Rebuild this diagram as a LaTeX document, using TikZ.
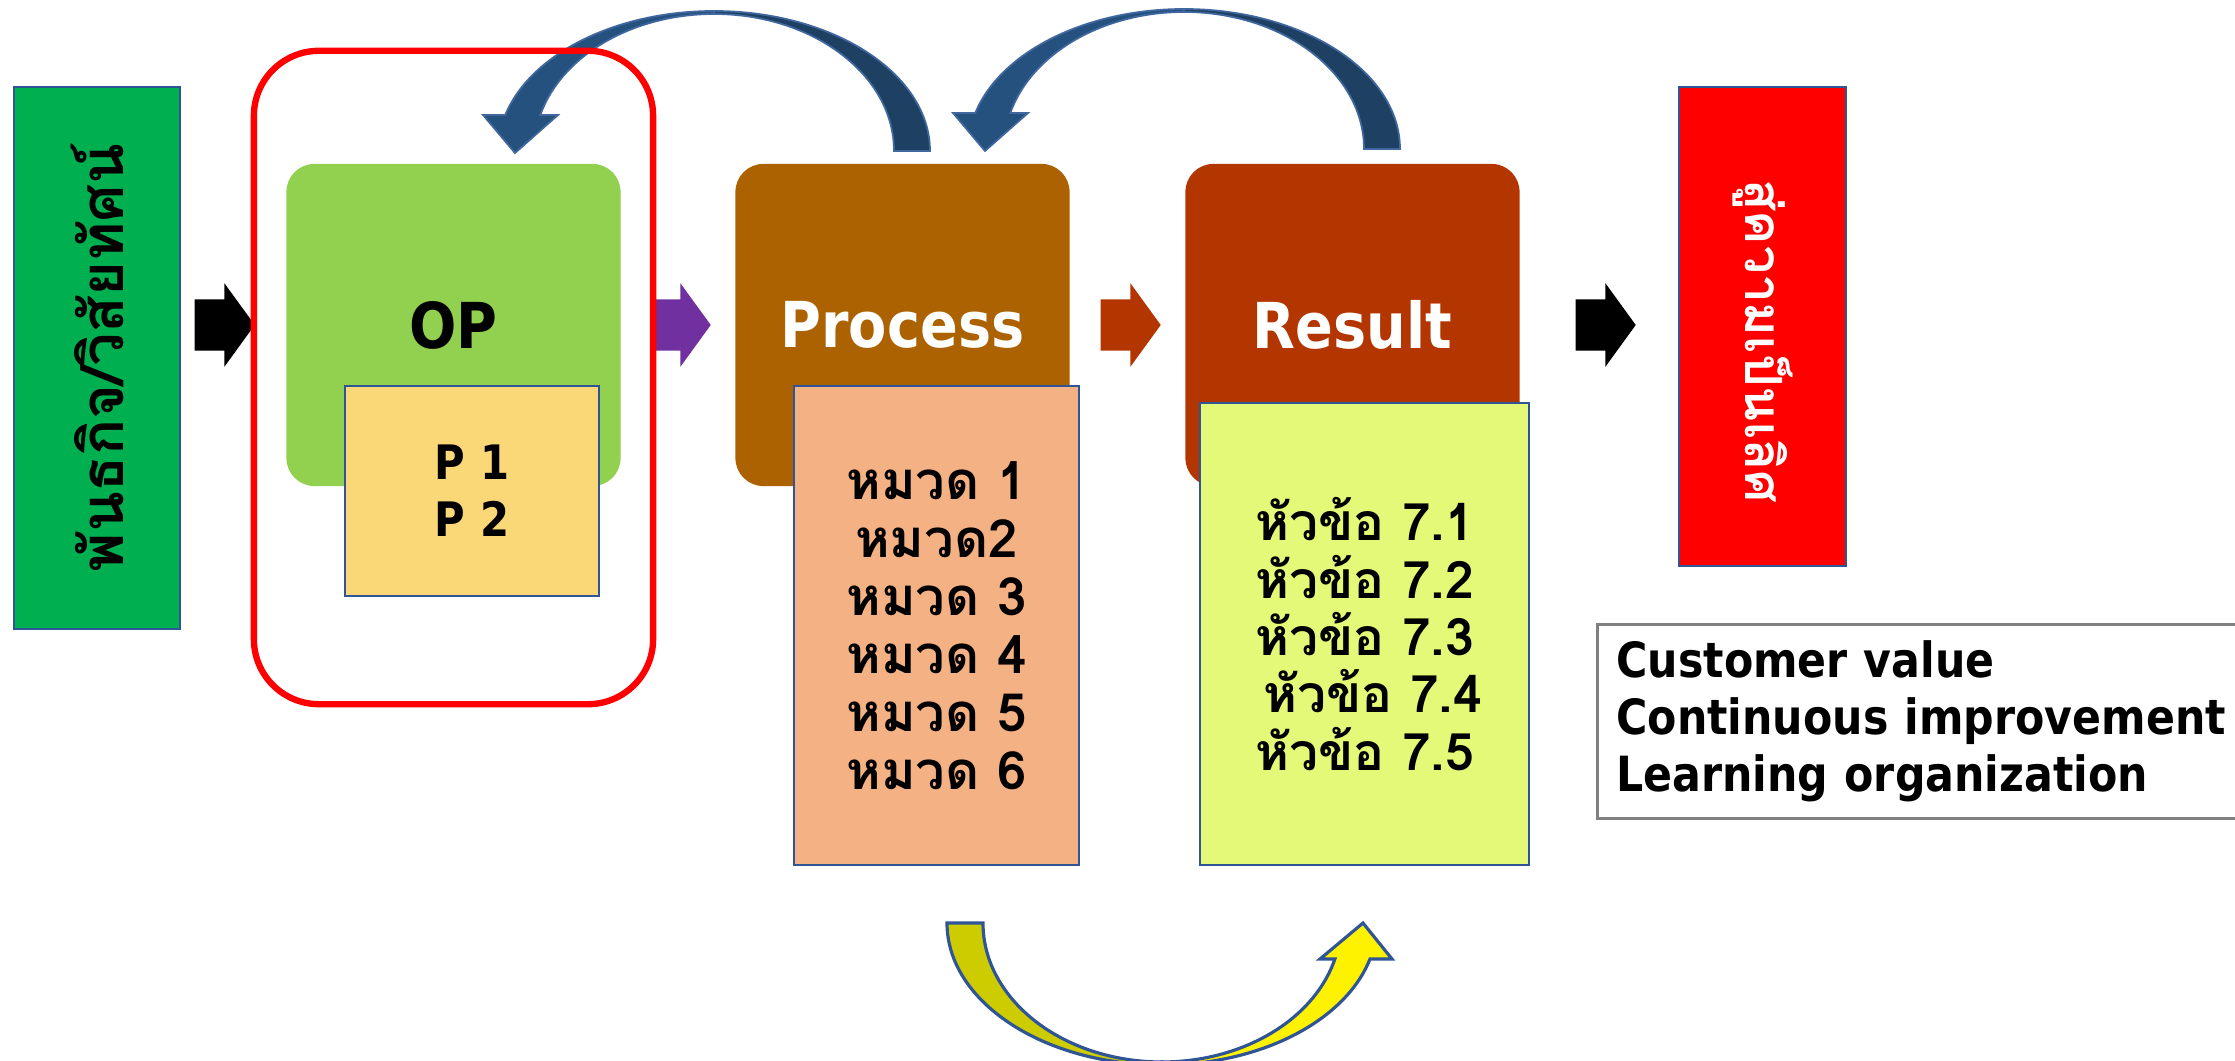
\documentclass[tikz,border=0pt]{standalone}
\usepackage{fontspec}
\setmainfont{DejaVu Sans}[FakeStretch=0.88]
\newfontfamily\thaifont[Script=Thai]{Loma}
\usepackage{tikz}
\usetikzlibrary{shapes.arrows,positioning}

\definecolor{missiongreen}{HTML}{00B050}
\definecolor{opgreen}{HTML}{92D050}
\definecolor{psand}{HTML}{FAD878}
\definecolor{procbrown}{HTML}{AC6200}
\definecolor{peach}{HTML}{F4B183}
\definecolor{resrust}{HTML}{B33500}
\definecolor{limepaper}{HTML}{E5F978}
\definecolor{edgeblue}{HTML}{2F5597}
\definecolor{arclight}{HTML}{25517F}
\definecolor{arcdark}{HTML}{1E4062}
\definecolor{arcedge}{HTML}{41679F}
\definecolor{oliveback}{HTML}{CCCC00}
\definecolor{oppurple}{HTML}{7030A0}

\begin{document}
\begin{tikzpicture}[x=0.01cm,y=-0.01cm,
    card/.style={rounded corners=0.28cm, minimum width=3.34cm, minimum height=3.22cm,
                 inner sep=0pt, font=\bfseries\fontsize{18}{20}\selectfont},
    sheet/.style={draw=edgeblue, line width=0.6pt, align=center, inner sep=0pt},
    fat/.style={single arrow, draw=none, anchor=tail, inner xsep=0pt, inner ysep=0.25cm,
                minimum height=0.6cm, minimum width=0.82cm,
                single arrow head extend=0.16cm, single arrow tip angle=108},
    thaitext/.style={font=\thaifont\bfseries\fontsize{15}{16.5}\selectfont},
    curve/.style={draw=arcedge, line width=0.5pt}]

  \useasboundingbox (0,0) rectangle (2235,1061);

  % mission box
  \node[sheet, fill=missiongreen, rotate=90, minimum width=5.42cm, minimum height=1.66cm,
        font=\thaifont\bfseries\fontsize{17}{20}\selectfont] (mission) at (97,358) {พันธกิจ/วิสัยทัศน์};

  % block arrows
  \node[fat, fill=black] (a1) at (194,325) {};
  \node[fat, fill=oppurple] (a2) at (650,325) {};
  \node[fat, fill=resrust] (a3) at (1100,325) {};
  \node[fat, fill=black] (a4) at (1575,325) {};

  % loop-back arrows on top
  \foreach \cx/\cy in {714/151,1184/149}{
    \begin{scope}[shift={(\cx,\cy)}]
      \filldraw[curve, fill=arcdark] (270:216 and 140)
        arc[start angle=270, end angle=360, x radius=216, y radius=140]
        -- (0:180 and 137)
        arc[start angle=360, end angle=270, x radius=180, y radius=137] -- cycle;
      \filldraw[curve, fill=arclight] (270:216 and 140)
        arc[start angle=270, end angle=194.9, x radius=216, y radius=140]
        -- (-231,-36) -- (-199,2) -- (-156,-36)
        -- (195.2:180 and 137)
        arc[start angle=195.2, end angle=270, x radius=180, y radius=137] -- cycle;
    \end{scope}
  }

  % OP
  \node[card, fill=opgreen] (op) at (453.5,325) {OP};
  \node[sheet, fill=psand, minimum width=2.54cm, minimum height=2.10cm,
        font=\bfseries\fontsize{13.5}{16.2}\selectfont] (plist) at (472,491) {P 1\\P 2};

  % Process
  \node[card, fill=procbrown, text=white] (process) at (902.5,325) {Process};
  \node[sheet, fill=peach, minimum width=2.85cm, minimum height=4.79cm, thaitext] (cats) at (936.5,625.5)
    {หมวด 1\\หมวด2\\หมวด 3\\หมวด 4\\หมวด 5\\หมวด 6};

  % Result
  \node[card, fill=resrust, text=white] (result) at (1352.5,325) {Result};
  \node[sheet, fill=limepaper, minimum width=3.29cm, minimum height=4.62cm, thaitext,
        font=\thaifont\bfseries\fontsize{14.7}{16.3}\selectfont] (items) at (1364.5,634)
    {หัวข้อ 7.1\\หัวข้อ 7.2\\หัวข้อ 7.3\\\hspace*{0.16cm}หัวข้อ 7.4\\หัวข้อ 7.5};

  % excellence
  \node[sheet, fill=red, text=white, rotate=-90, minimum width=4.79cm, minimum height=1.67cm,
        font=\thaifont\bfseries\fontsize{14.6}{18}\selectfont] (excel) at (1762.5,326.5)
    {\hspace*{0.3cm}สู่ความเป็นเลิศ};

  % values
  \node[draw=gray, line width=0.8pt, anchor=north west, minimum height=1.94cm,
        text width=6.5cm, inner xsep=0.19cm, align=left,
        font=\bfseries\fontsize{13.8}{16.2}\selectfont] (values) at (1596,623)
    {Customer value\\Continuous improvement\\Learning organization};

  % bottom arrow
  \begin{scope}[shift={(1162,923)}]
    \filldraw[draw=edgeblue, line width=0.9pt, fill=oliveback] (180:215 and 142)
      arc[start angle=180, end angle=90, x radius=215, y radius=142]
      -- (90:179 and 139)
      arc[start angle=90, end angle=180, x radius=179, y radius=139] -- cycle;
    \filldraw[draw=edgeblue, line width=0.9pt, fill=yellow] (90:215 and 142)
      arc[start angle=90, end angle=14.7, x radius=215, y radius=142]
      -- (230,36) -- (201,0) -- (158,36)
      -- (15:179 and 139)
      arc[start angle=15, end angle=90, x radius=179, y radius=139] -- cycle;
  \end{scope}

  % OP frame
  \node[draw=red, line width=1.8pt, rounded corners=0.65cm,
        minimum width=3.99cm, minimum height=6.53cm] (opframe) at (453.5,377.5) {};

\end{tikzpicture}
\end{document}
